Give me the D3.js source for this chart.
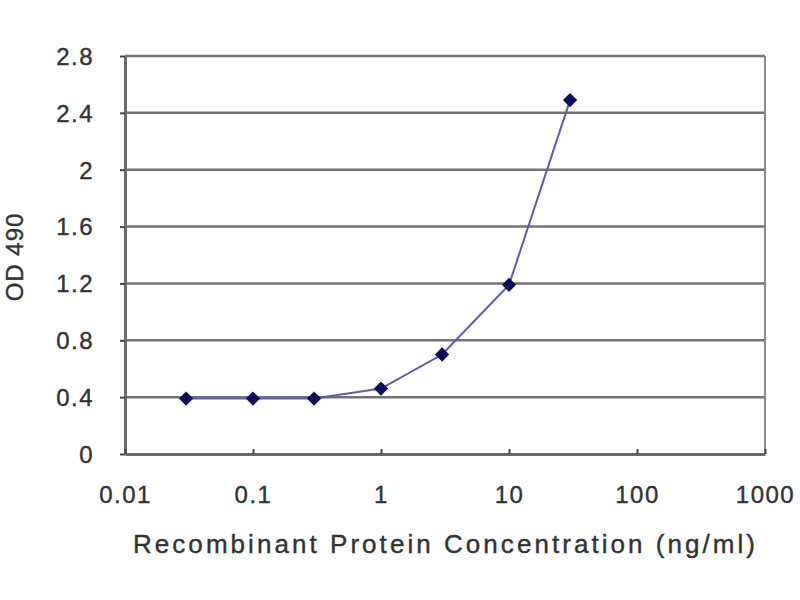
<!DOCTYPE html>
<html>
<head>
<meta charset="utf-8">
<script src="https://cdn.jsdelivr.net/npm/d3@7"></script>
<style>
  body { margin: 0; background: #fff; }
  text { font-family: "Liberation Sans", Arial, sans-serif; fill: #333; }
</style>
</head>
<body>
<svg id="chart" width="800" height="600"></svg>
<script>
// concentration (ng/ml) and OD 490 readings
var concentrations = [0.03, 0.1, 0.3, 1, 3, 10, 30];
var odValues = [0.39, 0.39, 0.39, 0.46, 0.70, 1.19, 2.49];
var xTicks = [0.01, 0.1, 1, 10, 100, 1000];
var xTickLabels = ['0.01', '0.1', '1', '10', '100', '1000'];
var yTicks = [0, 0.4, 0.8, 1.2, 1.6, 2, 2.4, 2.8];

var svg = d3.select('#chart');

var plot = { left: 125, right: 765, top: 56, bottom: 454 };

var x = d3.scaleLog().domain([0.01, 1000]).range([plot.left, plot.right]);
var y = d3.scaleLinear().domain([0, 2.8]).range([plot.bottom, plot.top]);

// horizontal gridlines
svg.append('g')
  .selectAll('line')
  .data(yTicks.slice(1))
  .enter()
  .append('line')
  .attr('x1', plot.left).attr('x2', plot.right)
  .attr('y1', function(d) { return y(d); })
  .attr('y2', function(d) { return y(d); })
  .attr('stroke', '#737373')
  .attr('stroke-width', 2.5);

// right border
svg.append('line')
  .attr('x1', plot.right).attr('x2', plot.right)
  .attr('y1', plot.top).attr('y2', plot.bottom)
  .attr('stroke', '#8a8a8a')
  .attr('stroke-width', 2);

// y axis
var yAxis = d3.axisLeft(y)
  .tickValues(yTicks)
  .tickSize(5)
  .tickSizeOuter(0)
  .tickPadding(26)
  .tickFormat(function(d) { return d === 0 ? '0' : d3.format('~g')(d); });

var yG = svg.append('g')
  .attr('transform', 'translate(' + plot.left + ',0)')
  .call(yAxis);

// x axis, ticks pointing inward
var xAxis = d3.axisBottom(x)
  .tickValues(xTicks)
  .tickSize(-5)
  .tickSizeOuter(0)
  .tickFormat(function(d, i) { return xTickLabels[i]; });

var xG = svg.append('g')
  .attr('transform', 'translate(0,' + plot.bottom + ')')
  .call(xAxis);

[yG, xG].forEach(function(g) {
  g.select('.domain').attr('stroke', '#6a6a6a').attr('stroke-width', 3);
  g.selectAll('.tick line').attr('stroke', '#444').attr('stroke-width', 2);
  g.selectAll('.tick text')
    .attr('font-size', 24)
    .attr('letter-spacing', 1.5)
    .style('font-family', '"Liberation Sans", Arial, sans-serif')
    .attr('fill', '#333')
    .attr('stroke', '#333')
    .attr('stroke-width', 0.4);
});
yG.selectAll('.tick text').attr('dy', '0.35em');
xG.selectAll('.tick text').attr('dy', '0.71em').attr('y', 32);

// data line
var line = d3.line()
  .x(function(d, i) { return x(concentrations[i]); })
  .y(function(d) { return y(d); });

svg.append('path')
  .datum(odValues)
  .attr('d', line)
  .attr('fill', 'none')
  .attr('stroke', '#5c5cb0')
  .attr('stroke-width', 2);

// diamond markers
svg.append('g')
  .selectAll('path')
  .data(odValues)
  .enter()
  .append('path')
  .attr('d', d3.symbol().type(d3.symbolDiamond2).size(130))
  .attr('transform', function(d, i) {
    return 'translate(' + x(concentrations[i]) + ',' + y(d) + ')';
  })
  .attr('fill', '#0c0c5c');

// axis titles
svg.append('text')
  .attr('x', 444)
  .attr('y', 553)
  .attr('text-anchor', 'middle')
  .attr('font-size', 26)
  .attr('stroke', '#333')
  .attr('stroke-width', 0.4)
  .attr('textLength', 622)
  .attr('lengthAdjust', 'spacing')
  .text('Recombinant Protein Concentration (ng/ml)');

svg.append('text')
  .attr('transform', 'translate(23,257) rotate(-90)')
  .attr('text-anchor', 'middle')
  .attr('font-size', 24)
  .attr('letter-spacing', 1)
  .attr('stroke', '#333')
  .attr('stroke-width', 0.4)
  .text('OD 490');
</script>
</body>
</html>
